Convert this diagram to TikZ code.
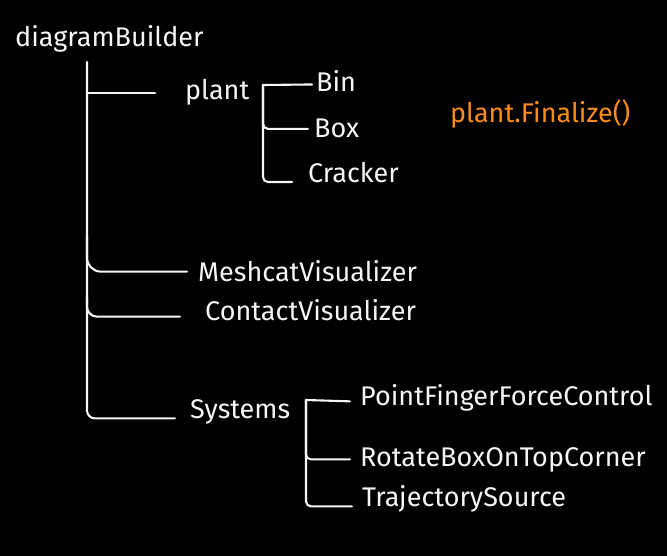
\documentclass[tikz,border=0pt]{standalone}
\usepackage{fontspec}
\setmainfont{Fira Sans}
\usetikzlibrary{calc}
\definecolor{chalk}{RGB}{245,245,245}
\definecolor{marker}{RGB}{250,140,25}

\begin{document}
\begin{tikzpicture}[x=1pt,y=-1pt,
    item/.style={anchor=base west,text=chalk,inner sep=0pt,font=\fontsize{27}{32}\selectfont},
    wire/.style={draw=chalk,line width=2.1pt,line cap=round,rounded corners=5pt}]
  \useasboundingbox[fill=black] (0,0) rectangle (667,556);

  % names
  \node[item] (root) at (15,47) {diagramBuilder};
  \node[item] (plant) at (185,100) {plant};
  \node[item] (bin) at (316,92) {Bin};
  \node[item] (box) at (314,138) {Box};
  \node[item] (cracker) at (308,183) {Cracker};
  \node[item,text=marker] (finalize) at (450,123) {plant.Finalize()};
  \node[item] (mesh) at (198,282) {MeshcatVisualizer};
  \node[item] (contact) at (205,320) {ContactVisualizer};
  \node[item] (systems) at (190,418) {Systems};
  \node[item] (finger) at (360,405) {PointFingerForceControl};
  \node[item] (rotate) at (360,466) {RotateBoxOnTopCorner};
  \node[item] (traj) at (362,506) {TrajectorySource};

  \coordinate (trunk) at (87,62);
  \coordinate (pfork) at (263,85);
  \coordinate (sfork) at (306,400);

  % main trunk
  \draw[wire,rounded corners=8pt] (trunk) |- ([xshift=-15pt,yshift=-7pt]systems.west);
  \draw[wire] (trunk |- plant.west) -- ([xshift=-30pt]plant.west);
  \draw[wire,rounded corners=14pt] ($(trunk |- mesh.west)+(0,-35)$) |- ([xshift=-11pt]mesh.west);
  \draw[wire,rounded corners=10pt] ($(trunk |- contact.west)+(0,-12)$) |- ([xshift=-25pt,yshift=-7pt]contact.west);

  % plant parts
  \draw[wire] (pfork) -- ([xshift=-4pt,yshift=-3pt]bin.west);
  \draw[wire] (pfork) |- ([xshift=-6pt]box.west);
  \draw[wire] (pfork) |- ([xshift=-16pt,yshift=-9pt]cracker.west);

  % systems
  \draw[wire] (sfork) -- ([xshift=-10pt,yshift=-4pt]finger.west);
  \draw[wire] (sfork) |- ([xshift=-10pt]rotate.west);
  \draw[wire] (sfork) |- ([xshift=-10pt,yshift=-8pt]traj.west);
\end{tikzpicture}
\end{document}
